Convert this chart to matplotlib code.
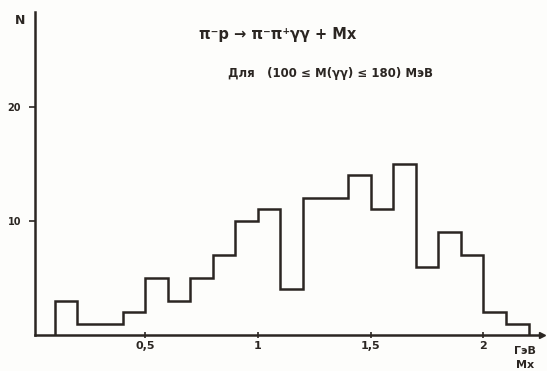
import matplotlib
matplotlib.use("Agg")
import matplotlib.pyplot as plt

# Data
bin_edges = [0.1, 0.2, 0.4, 0.5, 0.6, 0.7, 0.8, 0.9, 1.0, 1.1, 1.2, 1.4,
             1.5, 1.6, 1.7, 1.8, 1.9, 2.0, 2.1, 2.2]
counts = [3, 1, 2, 5, 3, 5, 7, 10, 11, 4, 12, 14, 11, 15, 6, 9, 7, 2, 1]
x_ticks = [0.5, 1.0, 1.5, 2.0]
x_tick_labels = ["0,5", "1", "1,5", "2"]
y_ticks = [10, 20]
y_tick_labels = ["10", "20"]

ink = "#2b2622"

fig = plt.figure(figsize=(5.47, 3.71), dpi=100)
fig.patch.set_facecolor("#fdfdfb")
ax = fig.add_axes([0.064, 0.097, 0.927, 0.871])
ax.set_facecolor("none")

ax.stairs(counts, bin_edges, baseline=0, color=ink, linewidth=1.8)

ax.set_xlim(0.012, 2.26)
ax.set_ylim(0, 28.3)

for s in ["top", "right"]:
    ax.spines[s].set_visible(False)
for s in ["left", "bottom"]:
    ax.spines[s].set_color(ink)
    ax.spines[s].set_linewidth(1.8)

ax.set_xticks(x_ticks)
ax.set_xticklabels(x_tick_labels)
ax.set_yticks(y_ticks)
ax.set_yticklabels(y_tick_labels)
ax.tick_params(axis="x", direction="inout", length=5, width=1.2, colors=ink,
               labelsize=8, pad=2)
ax.tick_params(axis="y", direction="out", length=4, width=1.2, colors=ink,
               labelsize=7, pad=6)
for lab in ax.get_xticklabels() + ax.get_yticklabels():
    lab.set_fontweight("bold")

# arrow at the end of the x axis
ax.plot(1, 0, marker=">", color=ink, markersize=4, transform=ax.transAxes,
        clip_on=False)

# texts
fig.text(15 / 547, 1 - 20 / 371, "N", fontsize=9, fontweight="bold", color=ink,
         ha="left", va="center")
fig.text(525 / 547, 1 - 351 / 371, "ГэВ", fontsize=8, fontweight="bold",
         color=ink, ha="center", va="center")
fig.text(525 / 547, 1 - 365 / 371, "Mx", fontsize=8, fontweight="bold",
         color=ink, ha="center", va="center")
fig.text(278 / 547, 1 - 34 / 371, "π⁻p → π⁻π⁺γγ + Mx", fontsize=10.5,
         fontweight="bold", color=ink, ha="center", va="center")
fig.text(330 / 547, 1 - 74 / 371, "Для   (100 ≤ M(γγ) ≤ 180) МэВ",
         fontsize=8.5, fontweight="bold", color=ink, ha="center", va="center")

fig.savefig("out.png", dpi=100, facecolor=fig.get_facecolor())
